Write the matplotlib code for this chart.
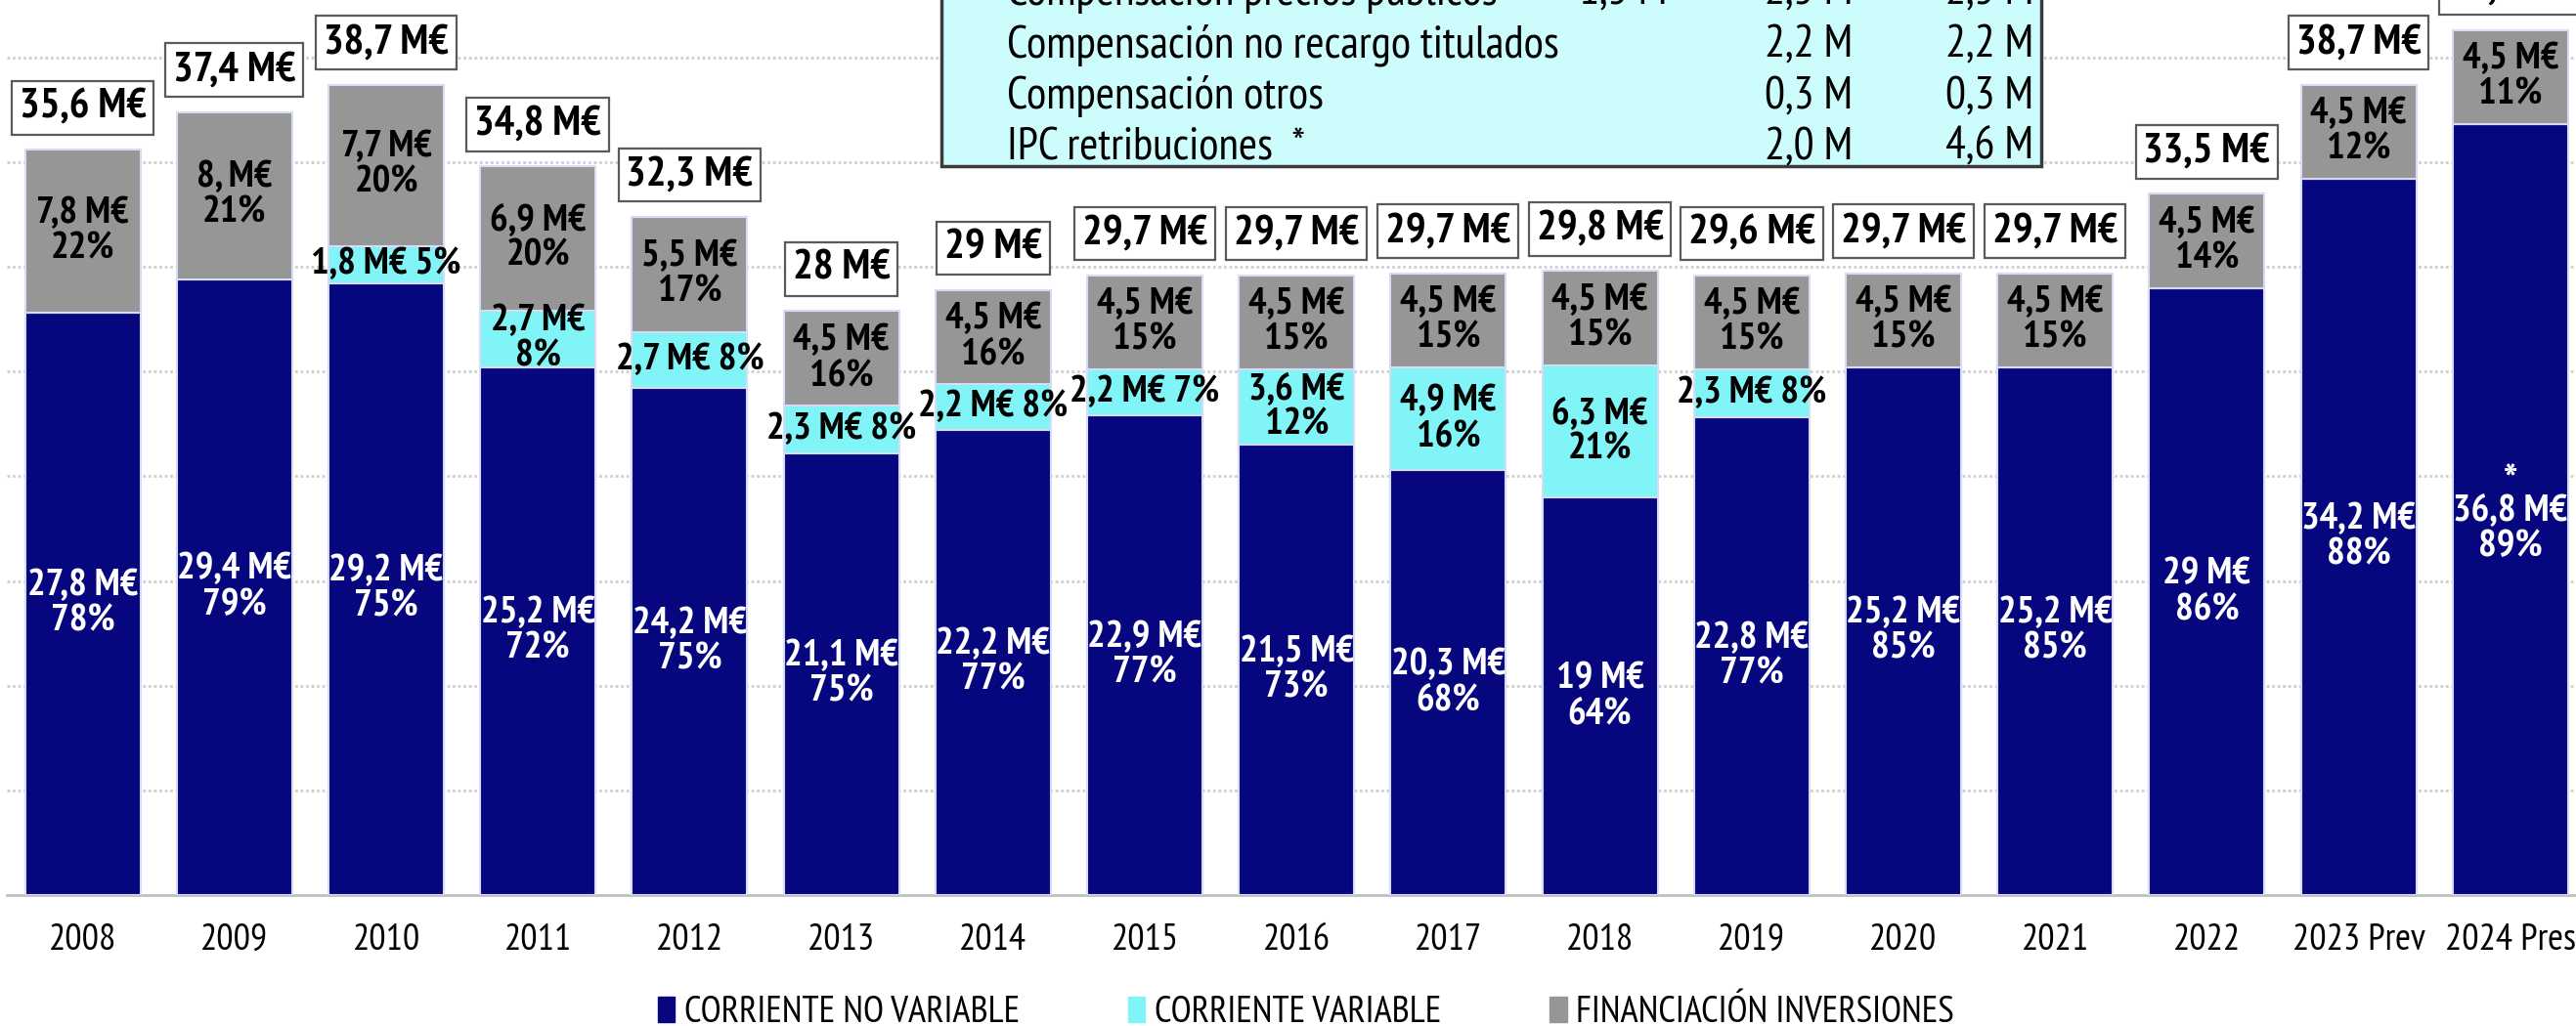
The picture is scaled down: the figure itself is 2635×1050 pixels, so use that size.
import matplotlib.pyplot as plt
import matplotlib.font_manager as fm
from matplotlib.patches import Rectangle, Patch

W, H = 2635, 1050

years = ['2008', '2009', '2010', '2011', '2012', '2013', '2014', '2015', '2016',
         '2017', '2018', '2019', '2020', '2021', '2022', '2023 Prev', '2024 Pres']
no_variable = [27.8, 29.4, 29.2, 25.2, 24.2, 21.1, 22.2, 22.9, 21.5, 20.3, 19.0,
               22.8, 25.2, 25.2, 29.0, 34.2, 36.8]
variable = [0, 0, 1.8, 2.7, 2.7, 2.3, 2.2, 2.2, 3.6, 4.9, 6.3, 2.3, 0, 0, 0, 0, 0]
inversiones = [7.8, 8.0, 7.7, 6.9, 5.5, 4.5, 4.5, 4.5, 4.5, 4.5, 4.5, 4.5, 4.5,
               4.5, 4.5, 4.5, 4.5]

totales_txt = ['35,6 M€', '37,4 M€', '38,7 M€', '34,8 M€', '32,3 M€', '28 M€', '29 M€',
               '29,7 M€', '29,7 M€', '29,7 M€', '29,8 M€', '29,6 M€', '29,7 M€',
               '29,7 M€', '33,5 M€', '38,7 M€', '41,3 M€']
no_var_txt = ['27,8 M€', '29,4 M€', '29,2 M€', '25,2 M€', '24,2 M€', '21,1 M€', '22,2 M€',
              '22,9 M€', '21,5 M€', '20,3 M€', '19 M€', '22,8 M€', '25,2 M€', '25,2 M€',
              '29 M€', '34,2 M€', '36,8 M€']
no_var_pct = ['78%', '79%', '75%', '72%', '75%', '75%', '77%', '77%', '73%', '68%',
              '64%', '77%', '85%', '85%', '86%', '88%', '89%']
var_txt = ['', '', '1,8 M€ 5%', '2,7 M€\n8%', '2,7 M€ 8%', '2,3 M€ 8%', '2,2 M€ 8%',
           '2,2 M€ 7%', '3,6 M€\n12%', '4,9 M€\n16%', '6,3 M€\n21%', '2,3 M€ 8%',
           '', '', '', '', '']
inv_txt = ['7,8 M€', '8, M€', '7,7 M€', '6,9 M€', '5,5 M€', '4,5 M€', '4,5 M€', '4,5 M€',
           '4,5 M€', '4,5 M€', '4,5 M€', '4,5 M€', '4,5 M€', '4,5 M€', '4,5 M€',
           '4,5 M€', '4,5 M€']
inv_pct = ['22%', '21%', '20%', '20%', '17%', '16%', '16%', '15%', '15%', '15%', '15%',
           '15%', '15%', '15%', '14%', '12%', '11%']

tabla_conceptos = ['Compensación precios públicos', 'Compensación no recargo titulados',
                   'Compensación otros', 'IPC retribuciones  *']
tabla_col1 = ['1,5 M', '', '', '']
tabla_col2 = ['2,5 M', '2,2 M', '0,3 M', '2,0 M']
tabla_col3 = ['2,5 M', '2,2 M', '0,3 M', '4,6 M']

NAVY = '#06067f'
CYAN = '#80f4f6'
GRIS = '#969696'

# letra estrecha con negrita, la primera que este instalada
fuentes = fm.fontManager.ttflist
def tiene_negrita(n):
    return any(f.name == n and str(f.weight) in ('700', 'bold') for f in fuentes)

FAM = 'Liberation Sans'
for n in ['PT Sans Narrow', 'Open Sans Condensed', 'Asap Condensed', 'Roboto Condensed',
          'Barlow Semi Condensed']:
    if tiene_negrita(n):
        FAM = n
        break
k = 1.0 if FAM == 'Liberation Sans' else 1.2

plt.rcParams['font.family'] = [FAM, 'DejaVu Sans']

fig = plt.figure(figsize=(W / 100, H / 100), dpi=100)
ax = fig.add_axes([7 / W, (H - 916) / H, 17 * 155.2 / W, 916 / H])

x = range(len(years))
bw = 0.76
edge = dict(edgecolor='#d6dcf5', linewidth=1.5)
ax.bar(x, no_variable, bw, color=NAVY, zorder=3, **edge)
base2 = no_variable
ax.bar(x, variable, bw, bottom=base2, color=CYAN, zorder=3, **edge)
base3 = [a + b for a, b in zip(no_variable, variable)]
ax.bar(x, inversiones, bw, bottom=base3, color=GRIS, zorder=3, **edge)

fs = 23.5 * k
ultimo = len(years) - 1
for i in x:
    bajar = -14 if i == ultimo else 0
    ax.annotate(no_var_txt[i] + '\n' + no_var_pct[i], (i, no_variable[i] / 2),
                xytext=(0, bajar), textcoords='offset points', ha='center', va='center',
                color='white', fontsize=fs, fontweight='bold', zorder=5, linespacing=1.05)
    if variable[i] > 0:
        ax.text(i, base2[i] + variable[i] / 2, var_txt[i], ha='center', va='center',
                color='black', fontsize=fs, fontweight='bold', zorder=5, linespacing=1.05)
    ax.text(i, base3[i] + inversiones[i] / 2, inv_txt[i] + '\n' + inv_pct[i], ha='center',
            va='center', color='black', fontsize=fs, fontweight='bold', zorder=5,
            linespacing=1.05)
    total = base3[i] + inversiones[i]
    ax.text(i, total + 2.0, totales_txt[i], ha='center', va='center', fontsize=26 * k,
            fontweight='bold', zorder=6,
            bbox=dict(boxstyle='square,pad=0.18', fc='white', ec='#5a5a5a', lw=1.6))

# asterisco sobre la etiqueta de 2024
ax.annotate('*', (ultimo, no_variable[ultimo] / 2), xytext=(0, 19), textcoords='offset points',
            ha='center', va='center', color='white', fontsize=fs * 1.15, fontweight='bold',
            zorder=5)

ax.set_xlim(-0.5, 16.5)
ax.set_ylim(0, 916 / 21.43)
ax.set_yticks(range(5, 45, 5))
ax.set_yticklabels([])
ax.yaxis.grid(True, linestyle=(0, (1, 1)), color='#cfcfcf', linewidth=2, zorder=0)
ax.tick_params(axis='both', length=0)
ax.tick_params(axis='x', labelsize=23 * k, pad=21)
ax.set_xticks(list(x))
ax.set_xticklabels(years)
for s in ['top', 'right', 'left']:
    ax.spines[s].set_visible(False)
ax.spines['bottom'].set_color('#c0c0c0')
ax.spines['bottom'].set_linewidth(2)

# cuadro con las compensaciones
fig.patches.append(Rectangle((963 / W, 1 - 170 / H), (2088 - 963) / W, 200 / H,
                             transform=fig.transFigure, fc='#ccfcfc', ec='#3c3c3c',
                             lw=2.5, zorder=10))
ft = 28 * k
fila_y = [-8, 46, 99, 151]
for r in range(len(tabla_conceptos)):
    yy = 1 - fila_y[r] / H
    fig.text(1030 / W, yy, tabla_conceptos[r], ha='left', va='center', fontsize=ft, zorder=11)
    fig.text(1705 / W, yy, tabla_col1[r], ha='right', va='center', fontsize=ft, zorder=11)
    fig.text(1895 / W, yy, tabla_col2[r], ha='right', va='center', fontsize=ft, zorder=11)
    fig.text(2080 / W, yy, tabla_col3[r], ha='right', va='center', fontsize=ft, zorder=11)

handles = [Patch(color=NAVY), Patch(color=CYAN), Patch(color=GRIS)]
fig.legend(handles, ['CORRIENTE NO VARIABLE', 'CORRIENTE VARIABLE', 'FINANCIACIÓN INVERSIONES'],
           loc='center', bbox_to_anchor=(0.507, 1 - 1037 / H), ncol=3, frameon=False,
           fontsize=23 * k, handlelength=0.45, handleheight=0.65, handletextpad=0.25,
           columnspacing=2.9)

fig.savefig('out.png', dpi=100)
